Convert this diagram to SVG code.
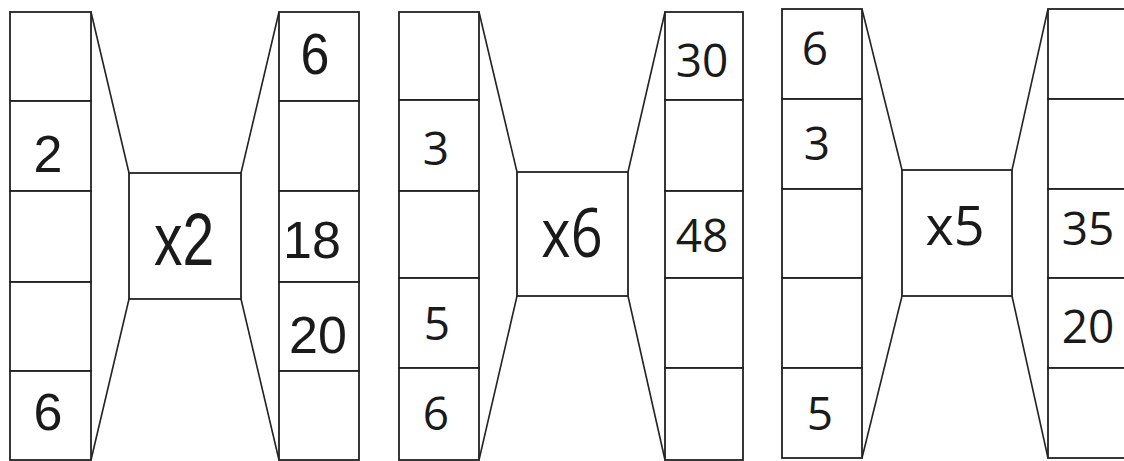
<svg xmlns="http://www.w3.org/2000/svg" width="1124" height="461" viewBox="0 0 1124 461">
<style>
.c{fill:#fff;stroke:#222;stroke-width:1.8}
.l{stroke:#222;stroke-width:1.6;fill:none}
.a{font-family:"Liberation Sans",Arial,sans-serif;fill:#1a1a1a;text-anchor:middle}
.b{font-family:"Open Sans","Noto Sans",sans-serif;fill:#1a1a1a;text-anchor:middle}
</style>
<rect width="1124" height="461" fill="#fff"/>
<g id="connectors">
<line class="l" x1="91" y1="12" x2="129" y2="173"/>
<line class="l" x1="91" y1="460" x2="129" y2="299"/>
<line class="l" x1="241" y1="173" x2="279" y2="12"/>
<line class="l" x1="241" y1="299" x2="279" y2="460"/>
<line class="l" x1="479" y1="12" x2="517" y2="172"/>
<line class="l" x1="479" y1="460" x2="517" y2="296"/>
<line class="l" x1="628" y1="172" x2="665" y2="12"/>
<line class="l" x1="628" y1="296" x2="665" y2="460"/>
<line class="l" x1="862" y1="9" x2="902" y2="170"/>
<line class="l" x1="862" y1="458" x2="902" y2="296"/>
<line class="l" x1="1012" y1="170" x2="1048" y2="9"/>
<line class="l" x1="1012" y1="296" x2="1048" y2="458"/>
</g>
<g id="p1-left">
<rect class="c" x="10" y="12" width="81" height="89"/>
<rect class="c" x="10" y="101" width="81" height="90"/>
<rect class="c" x="10" y="191" width="81" height="91"/>
<rect class="c" x="10" y="282" width="81" height="89"/>
<rect class="c" x="10" y="371" width="81" height="89"/>
<text class="a" x="48" y="172" font-size="52">2</text>
<text class="a" x="48" y="430" font-size="52">6</text>
</g>
<g id="p1-mid">
<rect class="c" x="129" y="173" width="112" height="126"/>
<text class="a" font-size="57" transform="translate(184,265) scale(1,1.3)">x2</text>
</g>
<g id="p1-right">
<rect class="c" x="279" y="12" width="80" height="89"/>
<rect class="c" x="279" y="101" width="80" height="90"/>
<rect class="c" x="279" y="191" width="80" height="91"/>
<rect class="c" x="279" y="282" width="80" height="89"/>
<rect class="c" x="279" y="371" width="80" height="89"/>
<text class="a" font-size="52" transform="translate(315,74) scale(1,1.12)">6</text>
<text class="a" x="312" y="258" font-size="52">18</text>
<text class="a" x="318" y="353" font-size="52">20</text>
</g>
<g id="p2-left">
<rect class="c" x="399" y="12" width="80" height="88"/>
<rect class="c" x="399" y="100" width="80" height="91"/>
<rect class="c" x="399" y="191" width="80" height="87"/>
<rect class="c" x="399" y="278" width="80" height="90"/>
<rect class="c" x="399" y="368" width="80" height="92"/>
<text class="b" x="436" y="165" font-size="46">3</text>
<text class="b" x="437" y="340" font-size="46">5</text>
<text class="b" x="436" y="430" font-size="46">6</text>
</g>
<g id="p2-mid">
<rect class="c" x="517" y="172" width="111" height="124"/>
<text class="b" font-size="56" transform="translate(572,257) scale(1,1.22)">x6</text>
</g>
<g id="p2-right">
<rect class="c" x="665" y="12" width="78" height="88"/>
<rect class="c" x="665" y="100" width="78" height="91"/>
<rect class="c" x="665" y="191" width="78" height="87"/>
<rect class="c" x="665" y="278" width="78" height="90"/>
<rect class="c" x="665" y="368" width="78" height="92"/>
<text class="b" x="702" y="77" font-size="46">30</text>
<text class="b" x="702" y="252" font-size="46">48</text>
</g>
<g id="p3-left">
<rect class="c" x="782" y="9" width="80" height="90"/>
<rect class="c" x="782" y="99" width="80" height="90"/>
<rect class="c" x="782" y="189" width="80" height="89"/>
<rect class="c" x="782" y="278" width="80" height="90"/>
<rect class="c" x="782" y="368" width="80" height="90"/>
<text class="b" x="815" y="65" font-size="46">6</text>
<text class="b" x="817" y="160" font-size="46">3</text>
<text class="b" x="820" y="430" font-size="46">5</text>
</g>
<g id="p3-mid">
<rect class="c" x="902" y="170" width="110" height="126"/>
<text class="b" x="955" y="245" font-size="54">x5</text>
</g>
<g id="p3-right">
<rect class="c" x="1048" y="9" width="90" height="90"/>
<rect class="c" x="1048" y="99" width="90" height="90"/>
<rect class="c" x="1048" y="189" width="90" height="89"/>
<rect class="c" x="1048" y="278" width="90" height="90"/>
<rect class="c" x="1048" y="368" width="90" height="90"/>
<text class="b" x="1088" y="245" font-size="46">35</text>
<text class="b" x="1088" y="343" font-size="46">20</text>
</g>
</svg>
